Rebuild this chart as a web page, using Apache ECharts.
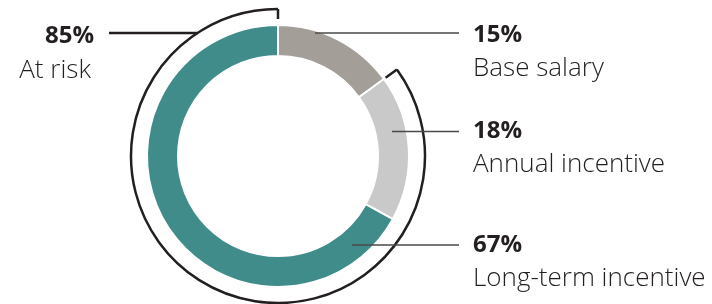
<!DOCTYPE html>
<html>
<head>
<meta charset="utf-8">
<script src="https://cdn.jsdelivr.net/npm/echarts@6/dist/echarts.min.js"></script>
<style>
  html, body { margin: 0; padding: 0; background: #fff; }
  #chart { width: 712px; height: 304px; }
</style>
</head>
<body>
<div id="chart"></div>
<script>
// data
const categories = ['Base salary', 'Annual incentive', 'Long-term incentive']
const values = [15, 18, 67]
const colors = ['#a39f98', '#c9c9c9', '#3f8c8b']
const atRiskLabel = 'At risk'
const atRiskValue = values[1] + values[2] // 85

// layout
const cx = 278
const cy = 156
const bracketR = 147
const textX = 473
const lineEndX = 459
const lineRows = [33, 131.5, 245] // leader lines
const numBase = [42, 138, 252] // baseline of the % numbers
const nameBase = [76, 172, 286] // baseline of the names
const lineStartX = [315, 392, 352]
const numSize = 24
const nameSize = 26
const font = '"Open Sans", Lato, sans-serif'
const numFont = 'bold ' + numSize + 'px ' + font
const nameFont = '300 ' + nameSize + 'px ' + font
const textColor = '#231f20'

// 'middle' sits ~0.285em above the baseline for Open Sans
const mid = (base, size) => base - 0.285 * size

const chartDom = document.getElementById('chart')
const myChart = echarts.init(chartDom)

const graphics = []

// right side labels + leader lines
categories.forEach((name, i) => {
  graphics.push({
    type: 'line',
    shape: { x1: lineStartX[i], y1: lineRows[i], x2: lineEndX, y2: lineRows[i] },
    style: { stroke: '#4a4a4a', lineWidth: 1.5 },
    z: 10,
  })
  graphics.push({
    type: 'text',
    x: textX,
    y: mid(numBase[i], numSize),
    style: {
      text: values[i] + '%',
      font: numFont,
      fill: textColor,
      textVerticalAlign: 'middle',
    },
  })
  graphics.push({
    type: 'text',
    x: textX,
    y: mid(nameBase[i], nameSize),
    style: {
      text: name,
      font: nameFont,
      fill: textColor,
      textVerticalAlign: 'middle',
    },
  })
})

// "at risk" bracket arc, starts where base salary ends
const startA = -Math.PI / 2 + (values[0] / 100) * Math.PI * 2
const endA = -Math.PI / 2 + (values[0] + atRiskValue) / 100 * Math.PI * 2
graphics.push({
  type: 'arc',
  shape: { cx: cx, cy: cy, r: bracketR, startAngle: startA, endAngle: endA, clockwise: true },
  style: { stroke: textColor, lineWidth: 2.5, fill: null },
})
;[[startA, 14], [endA, 10]].forEach(([a, len]) => {
  graphics.push({
    type: 'line',
    shape: {
      x1: cx + bracketR * Math.cos(a), y1: cy + bracketR * Math.sin(a),
      x2: cx + (bracketR - len) * Math.cos(a), y2: cy + (bracketR - len) * Math.sin(a),
    },
    style: { stroke: textColor, lineWidth: 2.5 },
  })
})

// left label
const leftY = 33
const leftDy = leftY - cy
const leftLineEnd = cx - Math.sqrt(bracketR * bracketR - leftDy * leftDy)
graphics.push({
  type: 'line',
  shape: { x1: 109, y1: leftY, x2: leftLineEnd, y2: leftY },
  style: { stroke: textColor, lineWidth: 2.5 },
})
graphics.push({
  type: 'text',
  x: 94,
  y: mid(43, numSize),
  style: {
    text: atRiskValue + '%',
    font: numFont,
    fill: textColor,
    textAlign: 'right',
    textVerticalAlign: 'middle',
  },
})
graphics.push({
  type: 'text',
  x: 91,
  y: mid(78, nameSize),
  style: {
    text: atRiskLabel,
    font: nameFont,
    fill: textColor,
    textAlign: 'right',
    textVerticalAlign: 'middle',
  },
})

const option = {
  animation: false,
  series: [
    {
      type: 'pie',
      center: [cx, cy],
      radius: [100, 131],
      startAngle: 90,
      clockwise: true,
      label: { show: false },
      labelLine: { show: false },
      itemStyle: { borderColor: '#fff', borderWidth: 2 },
      data: categories.map((name, i) => ({
        name: name,
        value: values[i],
        itemStyle: { color: colors[i] },
      })),
    },
  ],
  graphic: graphics,
}

option && myChart.setOption(option)
</script>
</body>
</html>
